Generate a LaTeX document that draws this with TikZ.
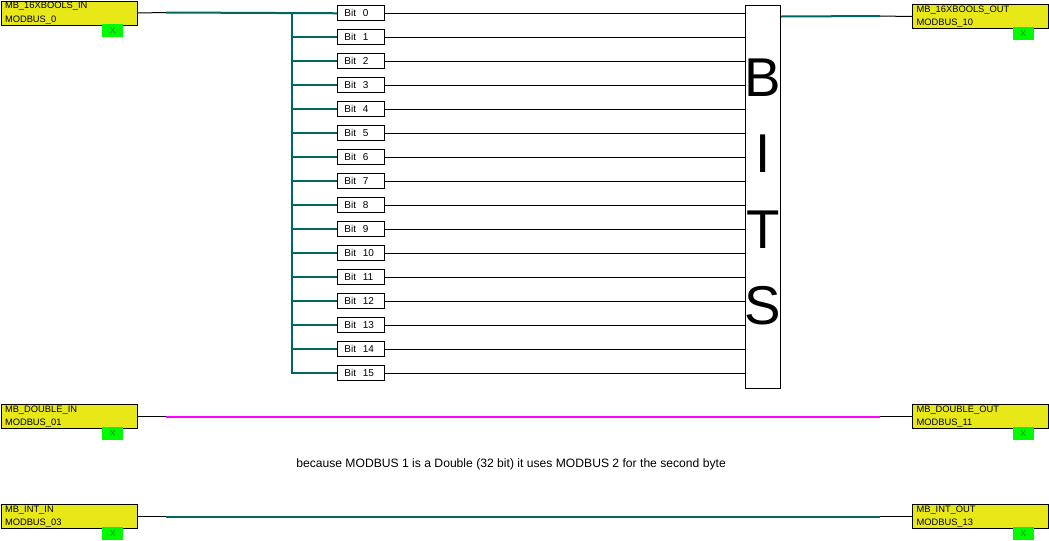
\documentclass[tikz,border=0pt]{standalone}
\usepackage{fontspec}
\setmainfont{Liberation Sans}
\usetikzlibrary{matrix,positioning}
\definecolor{ioyellow}{RGB}{232,232,24}
\definecolor{iogreen}{RGB}{0,250,0}
\definecolor{xgreen}{RGB}{30,140,30}
\definecolor{busteal}{RGB}{0,102,102}
\definecolor{dblpink}{RGB}{255,0,255}

\begin{document}
\begin{tikzpicture}[x=0.75pt,y=-0.75pt,
  iobox/.style={draw,fill=ioyellow,line width=0.75pt,minimum width=102pt,minimum height=18pt,inner sep=0pt,text width=96pt,align=left,font=\fontsize{7}{10}\selectfont},
  xbox/.style={fill=iogreen,minimum width=15.75pt,minimum height=9.75pt,inner sep=0pt,font=\fontsize{6.5}{6.5}\selectfont,text=xgreen},
  bitbox/.style={draw,fill=white,line width=0.75pt,minimum width=35.25pt,minimum height=11.25pt,inner xsep=5pt,inner ysep=0pt,text width=25.25pt,align=left,text height=5.5pt,text depth=0pt,font=\fontsize{7.5}{8}\selectfont,
    path picture={\fill ([yshift=-1.5pt]path picture bounding box.west) rectangle ++(2.2pt,3pt);
                  \fill ([yshift=-1.5pt]path picture bounding box.east) rectangle ++(-3pt,3pt);}},
  wire/.style={line width=0.75pt},
  buswire/.style={busteal,line width=1.5pt},
  dblwire/.style={dblpink,line width=1.5pt}]
\useasboundingbox (0,0) rectangle (1049,540);

\node[iobox,anchor=north west] (inbools) at (0.5,0.5) {MB\_16XBOOLS\_IN\\MODBUS\_0};
\node[iobox,anchor=north west] (outbools) at (912,4) {MB\_16XBOOLS\_OUT\\MODBUS\_10};
\node[iobox,anchor=north west] (indouble) at (0.5,404) {MB\_DOUBLE\_IN\\MODBUS\_01};
\node[iobox,anchor=north west] (outdouble) at (912,404) {MB\_DOUBLE\_OUT\\MODBUS\_11};
\node[iobox,anchor=north west] (inint) at (0.5,504) {MB\_INT\_IN\\MODBUS\_03};
\node[iobox,anchor=north west] (outint) at (912,504) {MB\_INT\_OUT\\MODBUS\_13};

\node[xbox,anchor=north east] (inboolsx) at ([shift={(-14,-2)}]inbools.south east) {X};
\node[xbox,anchor=north east] (outboolsx) at ([shift={(-15,-2)}]outbools.south east) {X};
\node[xbox,anchor=north east] (indoublex) at ([shift={(-14,-2)}]indouble.south east) {X};
\node[xbox,anchor=north east] (outdoublex) at ([shift={(-15,-2)}]outdouble.south east) {X};
\node[xbox,anchor=north east] (inintx) at ([shift={(-14,-2)}]inint.south east) {X};
\node[xbox,anchor=north east] (outintx) at ([shift={(-15,-2)}]outint.south east) {X};

\matrix (bits) [matrix of nodes, anchor=north west, inner sep=0pt, row sep=6pt, nodes={bitbox}] at (337,5) {
Bit~~0\\
Bit~~1\\
Bit~~2\\
Bit~~3\\
Bit~~4\\
Bit~~5\\
Bit~~6\\
Bit~~7\\
Bit~~8\\
Bit~~9\\
Bit~~10\\
Bit~~11\\
Bit~~12\\
Bit~~13\\
Bit~~14\\
Bit~~15\\
};

\node[draw,fill=white,line width=0.75pt,minimum width=26.25pt,minimum height=287.6pt,inner sep=0pt,anchor=north west] (bitsblk) at (745,4.5) {};
\node[inner sep=0pt,align=center,font=\fontsize{41}{57}\selectfont] (bitsword) at ([yshift=3.75pt]bitsblk.center) {B\\I\\T\\S};

\node[anchor=west,inner sep=0pt,font=\fontsize{9.1}{10}\selectfont] (note) at (296,464) {because MODBUS 1 is a Double (32 bit) it uses MODBUS 2 for the second byte};

\coordinate (boolsjoin) at (166,12.5);
\coordinate (busx) at (292,12.5);
\coordinate (boolsout) at (bitsblk.east |- outbools.west);
\coordinate (boolsoutjoin) at (880,16);

\draw[wire] (inbools.east) -- (boolsjoin);
\draw[buswire] (boolsjoin) -- (bits-1-1.west);
\draw[buswire] (busx) -- (busx |- bits-16-1.west) -- (bits-16-1.west);
\draw[buswire] (busx |- bits-2-1.west) -- (bits-2-1.west);
\draw[buswire] (busx |- bits-3-1.west) -- (bits-3-1.west);
\draw[buswire] (busx |- bits-4-1.west) -- (bits-4-1.west);
\draw[buswire] (busx |- bits-5-1.west) -- (bits-5-1.west);
\draw[buswire] (busx |- bits-6-1.west) -- (bits-6-1.west);
\draw[buswire] (busx |- bits-7-1.west) -- (bits-7-1.west);
\draw[buswire] (busx |- bits-8-1.west) -- (bits-8-1.west);
\draw[buswire] (busx |- bits-9-1.west) -- (bits-9-1.west);
\draw[buswire] (busx |- bits-10-1.west) -- (bits-10-1.west);
\draw[buswire] (busx |- bits-11-1.west) -- (bits-11-1.west);
\draw[buswire] (busx |- bits-12-1.west) -- (bits-12-1.west);
\draw[buswire] (busx |- bits-13-1.west) -- (bits-13-1.west);
\draw[buswire] (busx |- bits-14-1.west) -- (bits-14-1.west);
\draw[buswire] (busx |- bits-15-1.west) -- (bits-15-1.west);

\draw[wire] (bits-1-1.east) -- (bits-1-1.east -| bitsblk.west);
\draw[wire] (bits-2-1.east) -- (bits-2-1.east -| bitsblk.west);
\draw[wire] (bits-3-1.east) -- (bits-3-1.east -| bitsblk.west);
\draw[wire] (bits-4-1.east) -- (bits-4-1.east -| bitsblk.west);
\draw[wire] (bits-5-1.east) -- (bits-5-1.east -| bitsblk.west);
\draw[wire] (bits-6-1.east) -- (bits-6-1.east -| bitsblk.west);
\draw[wire] (bits-7-1.east) -- (bits-7-1.east -| bitsblk.west);
\draw[wire] (bits-8-1.east) -- (bits-8-1.east -| bitsblk.west);
\draw[wire] (bits-9-1.east) -- (bits-9-1.east -| bitsblk.west);
\draw[wire] (bits-10-1.east) -- (bits-10-1.east -| bitsblk.west);
\draw[wire] (bits-11-1.east) -- (bits-11-1.east -| bitsblk.west);
\draw[wire] (bits-12-1.east) -- (bits-12-1.east -| bitsblk.west);
\draw[wire] (bits-13-1.east) -- (bits-13-1.east -| bitsblk.west);
\draw[wire] (bits-14-1.east) -- (bits-14-1.east -| bitsblk.west);
\draw[wire] (bits-15-1.east) -- (bits-15-1.east -| bitsblk.west);
\draw[wire] (bits-16-1.east) -- (bits-16-1.east -| bitsblk.west);

\draw[buswire] (boolsout) -- (boolsoutjoin);
\draw[wire] (boolsoutjoin) -- (outbools.west);

\draw[wire] (indouble.east) -- (indouble.east -| boolsjoin);
\draw[dblwire] (indouble.east -| boolsjoin) -- (outdouble.west -| boolsoutjoin);
\draw[wire] (outdouble.west -| boolsoutjoin) -- (outdouble.west);

\draw[wire] (inint.east) -- (inint.east -| boolsjoin);
\draw[buswire] (inint.east -| boolsjoin) -- (outint.west -| boolsoutjoin);
\draw[wire] (outint.west -| boolsoutjoin) -- (outint.west);
\end{tikzpicture}
\end{document}
